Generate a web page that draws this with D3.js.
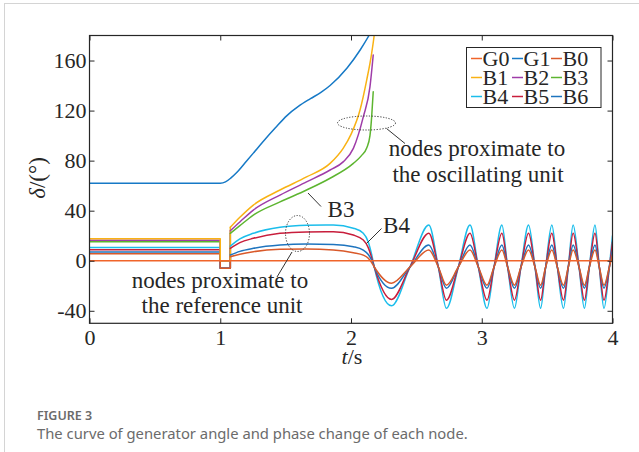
<!DOCTYPE html>
<html>
<head>
<meta charset="utf-8">
<script src="https://cdn.jsdelivr.net/npm/d3@7"></script>
<style>
  body { margin: 0; background: #fff; }
  svg { display: block; }
</style>
</head>
<body>
<svg id="chart" width="639" height="452"></svg>
<script>
// ---------------- data ----------------
const seriesNames = ["G0", "G1", "B0", "B1", "B2", "B3", "B4", "B5", "B6"];
const xTicks = [0, 1, 2, 3, 4];
const yTicks = [-40, 0, 40, 80, 120, 160];

// fault applied / cleared (s)
const faultStart = 1.0;
const faultClear = 1.077;

// angle before the fault and during the fault (deg), in seriesNames order
const preFaultAngle = [0, 62, 5.6, 17.6, 16.4, 15.2, 10.5, 8.8, 7.0];
const duringFaultAngle = [0, null, -6, 0, 0, 0, -6, -6, -6];

// reference generator G0
const tG0 = [0, 4];
const vG0 = [0, 0];

// oscillating generator G1 (whole run)
const tG1 = [0, 1.0, 1.04, 1.08, 1.126, 1.20, 1.253, 1.33, 1.42, 1.51, 1.60, 1.69, 1.77, 1.84, 1.97, 2.07, 2.14, 2.20];
const vG1 = [62, 62, 63, 66, 70.5, 79.5, 86, 95.5, 106, 116, 123.5, 129.5, 134.5, 140, 154, 168.4, 180.4, 192];

// nodes near G1, after fault clearing
const tB1 = [1.077, 1.15, 1.253, 1.457, 1.66, 1.84, 1.94, 2.0, 2.069, 2.12, 2.158, 2.176, 2.19];
const vB1 = [26.7, 34.7, 44.5, 56.5, 67, 77.8, 89.8, 101, 120.5, 144.4, 165.8, 179, 192];
const tB2 = [1.077, 1.15, 1.253, 1.457, 1.66, 1.84, 1.94, 2.018, 2.094, 2.145, 2.17];
const vB2 = [24, 31, 40.5, 52.5, 63, 72.5, 79, 89.8, 115, 139, 164.4];
const tB3 = [1.077, 1.15, 1.253, 1.457, 1.66, 1.84, 2.018, 2.08, 2.12, 2.145, 2.158, 2.17];
const vB3 = [21.9, 28, 36.5, 47, 56.5, 65.9, 77.8, 84, 90, 100, 115, 135];

// nodes near G0, after fault clearing (shared time base)
const tSwing = [
  1.077, 1.15, 1.253, 1.457, 1.66, 1.865, 2.018, 2.094, 2.132, 2.158,
  2.178, 2.31, 2.451, 2.595, 2.668, 2.73, 2.821, 2.91, 2.974, 3.04,
  3.094, 3.154, 3.198, 3.25, 3.30, 3.358, 3.407, 3.45, 3.489, 3.536,
  3.578, 3.625, 3.662, 3.699, 3.744, 3.785, 3.823, 3.866, 3.899, 3.935,
  3.976, 4.0
];
const vB4 = [
  11.7, 17.5, 21.9, 26.7, 28.3, 28.5, 26, 22, 15, 5,
  -5, -36, -5, 28.5, -5, -38, -5, 28.5, -5, -38,
  -5, 28.5, -5, -38, -5, 28.5, -5, -38, -5, 28.5,
  -5, -38, -5, 28.5, -5, -38, -5, 28.5, -5, -38,
  -5, 20
];
const vB5 = [
  9.9, 14.5, 17.9, 21.9, 23.0, 23.2, 20.5, 16.5, 10.5, 2.5,
  -5, -30.9, -5, 22, -5, -31.5, -5, 22, -5, -31.5,
  -5, 22, -5, -31.5, -5, 22, -5, -31.5, -5, 22,
  -5, -31.5, -5, 22, -5, -31.5, -5, 22, -5, -31.5,
  -5, 15
];
const vB6 = [
  4.6, 7.5, 9.9, 12.5, 13.3, 13, 11.2, 8.5, 5, 0.5,
  -5, -22, -5, 12.5, -5, -22, -5, 12.5, -5, -22,
  -5, 12.5, -5, -22, -5, 12.5, -5, -22, -5, 12.5,
  -5, -22, -5, 12.5, -5, -22, -5, 12.5, -5, -22,
  -5, 8
];
const vB0 = [
  3.2, 5.2, 7.2, 9.1, 9.4, 8.6, 6.4, 4.5, 2, -1.5,
  -5, -18, -5, 8.5, -5, -19.5, -5, 8.5, -5, -19.5,
  -5, 8.5, -5, -19.5, -5, 8.5, -5, -19.5, -5, 8.5,
  -5, -19.5, -5, 8.5, -5, -19.5, -5, 8.5, -5, -19.5,
  -5, 5
];

// ---------------- drawing ----------------
const color = {
  G0: "#F0642A", G1: "#1679C6", B0: "#D9592A", B1: "#F9B214", B2: "#9F3CA8",
  B3: "#5DB530", B4: "#1BBDEB", B5: "#C81E3C", B6: "#1E74BE"
};
const serif = "'Liberation Serif', 'Times New Roman', serif";
const sans = "'Noto Sans', 'Open Sans', sans-serif";
const ink = "#262626";

const svg = d3.select("#chart");

// card outline
svg.append("line").attr("x1", 4).attr("x2", 639).attr("y1", 3.5).attr("y2", 3.5)
  .attr("stroke", "#d4d4d4").attr("stroke-width", 1);
svg.append("line").attr("x1", 4.5).attr("x2", 4.5).attr("y1", 3).attr("y2", 452)
  .attr("stroke", "#d4d4d4").attr("stroke-width", 1);

const plot = { left: 89.5, right: 612.5, top: 35.5, bottom: 323.3 };
const x = d3.scaleLinear().domain([0, 4]).range([plot.left, plot.right]);
const y = d3.scaleLinear().domain([-50, 180]).range([plot.bottom, plot.top]);

svg.append("clipPath").attr("id", "plotClip")
  .append("rect").attr("x", plot.left).attr("y", plot.top)
  .attr("width", plot.right - plot.left).attr("height", plot.bottom - plot.top);

const stepLayer = svg.append("g").attr("clip-path", "url(#plotClip)");
const lines = svg.append("g").attr("clip-path", "url(#plotClip)");

const smooth = d3.line().x(d => x(d[0])).y(d => y(d[1])).curve(d3.curveMonotoneX);
const straight = d3.line().x(d => x(d[0])).y(d => y(d[1]));

function drawPath(layer, pts, gen, name) {
  layer.append("path").datum(pts)
    .attr("d", gen)
    .attr("fill", "none")
    .attr("stroke", color[name])
    .attr("stroke-width", 1.5)
    .attr("stroke-linejoin", "round")
    .attr("stroke-linecap", "round");
}

// pre-fault level, fault dip and jump at clearing, then the smooth response
function drawBus(name, tPost, vPost) {
  const i = seriesNames.indexOf(name);
  const pre = preFaultAngle[i], dip = duringFaultAngle[i];
  drawPath(stepLayer,
    [[0, pre], [faultStart, pre], [faultStart, dip], [faultClear, dip], [faultClear, vPost[0]]],
    straight, name);
  drawPath(lines, tPost.map((t, k) => [t, vPost[k]]), smooth, name);
}

drawBus("B4", tSwing, vB4);
drawBus("B5", tSwing, vB5);
drawBus("B6", tSwing, vB6);
drawBus("B3", tB3, vB3);
drawBus("B2", tB2, vB2);
drawBus("B0", tSwing, vB0);
drawPath(lines, tG0.map((t, k) => [t, vG0[k]]), straight, "G0");
drawBus("B1", tB1, vB1);
drawPath(lines, tG1.map((t, k) => [t, vG1[k]]), smooth, "G1");

// axes (ticks pointing inward on all four sides)
const tickFmt = d => (d < 0 ? "-" : "") + Math.abs(d);
const axisStyle = g => {
  g.selectAll(".domain").remove();
  g.selectAll(".tick line").attr("stroke", ink);
  g.selectAll("text").attr("font-family", serif).attr("font-size", 22).attr("fill", ink);
};
svg.append("g").attr("transform", `translate(0,${plot.bottom})`)
  .call(d3.axisBottom(x).tickValues(xTicks).tickFormat(tickFmt)
    .tickSizeInner(-5).tickSizeOuter(0).tickPadding(6))
  .call(axisStyle);
svg.append("g").attr("transform", `translate(0,${plot.top})`)
  .call(d3.axisTop(x).tickValues(xTicks).tickSizeInner(-5).tickSizeOuter(0).tickFormat(""))
  .call(axisStyle);
svg.append("g").attr("transform", `translate(${plot.left},0)`)
  .call(d3.axisLeft(y).tickValues(yTicks).tickFormat(tickFmt)
    .tickSizeInner(-5).tickSizeOuter(0).tickPadding(3))
  .call(axisStyle);
svg.append("g").attr("transform", `translate(${plot.right},0)`)
  .call(d3.axisRight(y).tickValues(yTicks).tickSizeInner(-5).tickSizeOuter(0).tickFormat(""))
  .call(axisStyle);

svg.append("rect")
  .attr("x", plot.left).attr("y", plot.top)
  .attr("width", plot.right - plot.left).attr("height", plot.bottom - plot.top)
  .attr("fill", "none").attr("stroke", ink).attr("stroke-width", 1.2);

// axis titles
const yTitle = svg.append("text")
  .attr("transform", "translate(45,178) rotate(-90)")
  .attr("text-anchor", "middle")
  .attr("font-family", serif).attr("font-size", 23).attr("fill", ink);
yTitle.append("tspan").attr("font-style", "italic").text("δ");
yTitle.append("tspan").text("/(°)");

const xTitle = svg.append("text")
  .attr("x", 352).attr("y", 364)
  .attr("text-anchor", "middle")
  .attr("font-family", serif).attr("font-size", 22).attr("fill", ink);
xTitle.append("tspan").attr("font-style", "italic").text("t");
xTitle.append("tspan").text("/s");

// annotations
const note = svg.append("g").attr("font-family", serif).attr("font-size", 23).attr("fill", ink);

function ellipse(cx, cy, rx, ry) {
  note.append("ellipse").attr("cx", cx).attr("cy", cy).attr("rx", rx).attr("ry", ry)
    .attr("fill", "none").attr("stroke", "#333").attr("stroke-width", 1)
    .attr("stroke-dasharray", "1.2,1.6");
}
function leader(x1, y1, x2, y2) {
  note.append("line").attr("x1", x1).attr("y1", y1).attr("x2", x2).attr("y2", y2)
    .attr("stroke", "#333").attr("stroke-width", 1);
}
function label(tx, ty, str) {
  note.append("text").attr("x", tx).attr("y", ty).attr("text-anchor", "middle").text(str);
}

ellipse(366.5, 123, 29, 7);
leader(386.5, 128.5, 405, 143.5);
label(477, 156, "nodes proximate to");
label(478, 182, "the oscillating unit");

ellipse(297.5, 233.5, 12, 18);
leader(292, 252, 277, 277);
label(220, 288, "nodes proximate to");
label(222, 313, "the reference unit");

leader(308, 193, 321, 206.5);
label(341, 217, "B3");
leader(366.5, 243.5, 381.5, 228.5);
label(396.5, 233, "B4");

// legend
const legend = svg.append("g");
legend.append("rect").attr("x", 466.5).attr("y", 47.5).attr("width", 134.5).attr("height", 60)
  .attr("fill", "#fff").attr("stroke", ink).attr("stroke-width", 1);
const colX = [471, 512, 551];
const rowY = [66, 85, 104];
seriesNames.forEach((name, i) => {
  const cx = colX[i % 3], cy = rowY[Math.floor(i / 3)];
  legend.append("line").attr("x1", cx).attr("x2", cx + 11).attr("y1", cy - 7.5).attr("y2", cy - 7.5)
    .attr("stroke", color[name]).attr("stroke-width", 1.5);
  legend.append("text").attr("x", cx + 11.5).attr("y", cy)
    .attr("font-family", serif).attr("font-size", 22).attr("fill", ink).text(name);
});

// caption
svg.append("text").attr("x", 37).attr("y", 420)
  .attr("font-family", sans).attr("font-size", 12.5)
  .attr("font-weight", 600).attr("fill", "#6b6b6b").text("FIGURE 3");
svg.append("text").attr("x", 37).attr("y", 439)
  .attr("font-family", sans).attr("font-size", 14.8)
  .attr("fill", "#6b6b6b").text("The curve of generator angle and phase change of each node.");
</script>
</body>
</html>
